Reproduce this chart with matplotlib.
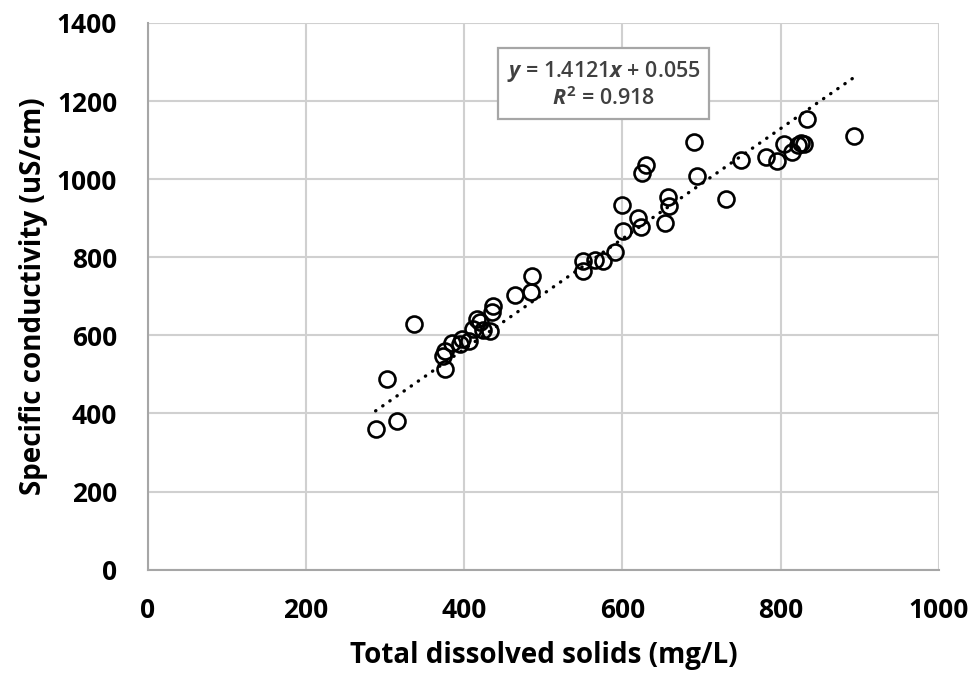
import numpy as np
import matplotlib
matplotlib.use("Agg")
import matplotlib.pyplot as plt

plt.rcParams['font.family'] = ['Open Sans', 'DejaVu Sans']
plt.rcParams['mathtext.fontset'] = 'custom'
plt.rcParams['mathtext.rm'] = 'Open Sans:bold'
plt.rcParams['mathtext.it'] = 'Open Sans:italic:bold'

# datos
tds = np.asarray([288, 315, 302, 336, 376, 373, 376, 385, 397, 395, 406, 411, 416, 420,
                  424, 432, 436, 435, 464, 486, 485, 550, 550, 565, 576, 590, 601, 599,
                  620, 623, 625, 630, 654, 657, 659, 694, 691, 731, 750, 781, 795, 804,
                  814, 822, 826, 829, 833, 892])
cond = np.asarray([361, 382, 489, 630, 514, 548, 559, 581, 591, 579, 585, 617, 643, 633,
                   615, 610, 674, 661, 704, 753, 710, 790, 764, 794, 790, 813, 868, 935,
                   901, 878, 1017, 1037, 889, 954, 932, 1008, 1095, 949, 1048, 1058, 1047, 1090,
                   1070, 1088, 1092, 1090, 1154, 1110])

slope = 1.4121
intercept = 0.055
r2 = 0.918

fig = plt.figure(figsize=(9.72, 6.75), dpi=100)
ax = fig.add_axes([0.152, 0.156, 0.814, 0.81])

# linea de tendencia
xt = np.asarray([tds.min(), tds.max()])
ax.plot(xt, slope * xt + intercept, color='black', linestyle=(0, (0.1, 2.5)),
        linewidth=2.4, dash_capstyle='round', zorder=2)

ax.plot(tds, cond, 'o', markersize=11.5, markerfacecolor='none',
        markeredgecolor='black', markeredgewidth=1.9, zorder=3)

ax.set_xlim(0, 1000)
ax.set_ylim(0, 1400)
ax.set_xticks(np.arange(0, 1001, 200))
ax.set_yticks(np.arange(0, 1401, 200))

# grilla
ax.grid(True, color='#d0d0d0', linewidth=1.5)
ax.set_axisbelow(True)
for s in ['top', 'right']:
    ax.spines[s].set_visible(False)
for s in ['left', 'bottom']:
    ax.spines[s].set_color('#a6a6a6')
    ax.spines[s].set_linewidth(1.5)
ax.tick_params(length=0, labelsize=19)
ax.tick_params(axis='x', pad=20)
ax.tick_params(axis='y', pad=22)
for lab in ax.get_xticklabels() + ax.get_yticklabels():
    lab.set_fontweight('bold')

ax.set_xlabel("Total dissolved solids (mg/L)", fontsize=20, fontweight='bold', labelpad=12)
ax.set_ylabel("Specific conductivity (uS/cm)", fontsize=20, fontweight='bold', labelpad=6)

ax.text(576, 1242, "$\\mathit{y}$ = 1.4121$\\mathit{x}$ + 0.055\n$\\mathit{R}^2$ = 0.918",
        ha='center', va='center', fontsize=15.5, fontweight='semibold', color='#404040',
        linespacing=1.2,
        bbox=dict(boxstyle='square,pad=0.4', facecolor='white', edgecolor='#a6a6a6', linewidth=1.6),
        zorder=4)

fig.savefig("out.png", dpi=100)
